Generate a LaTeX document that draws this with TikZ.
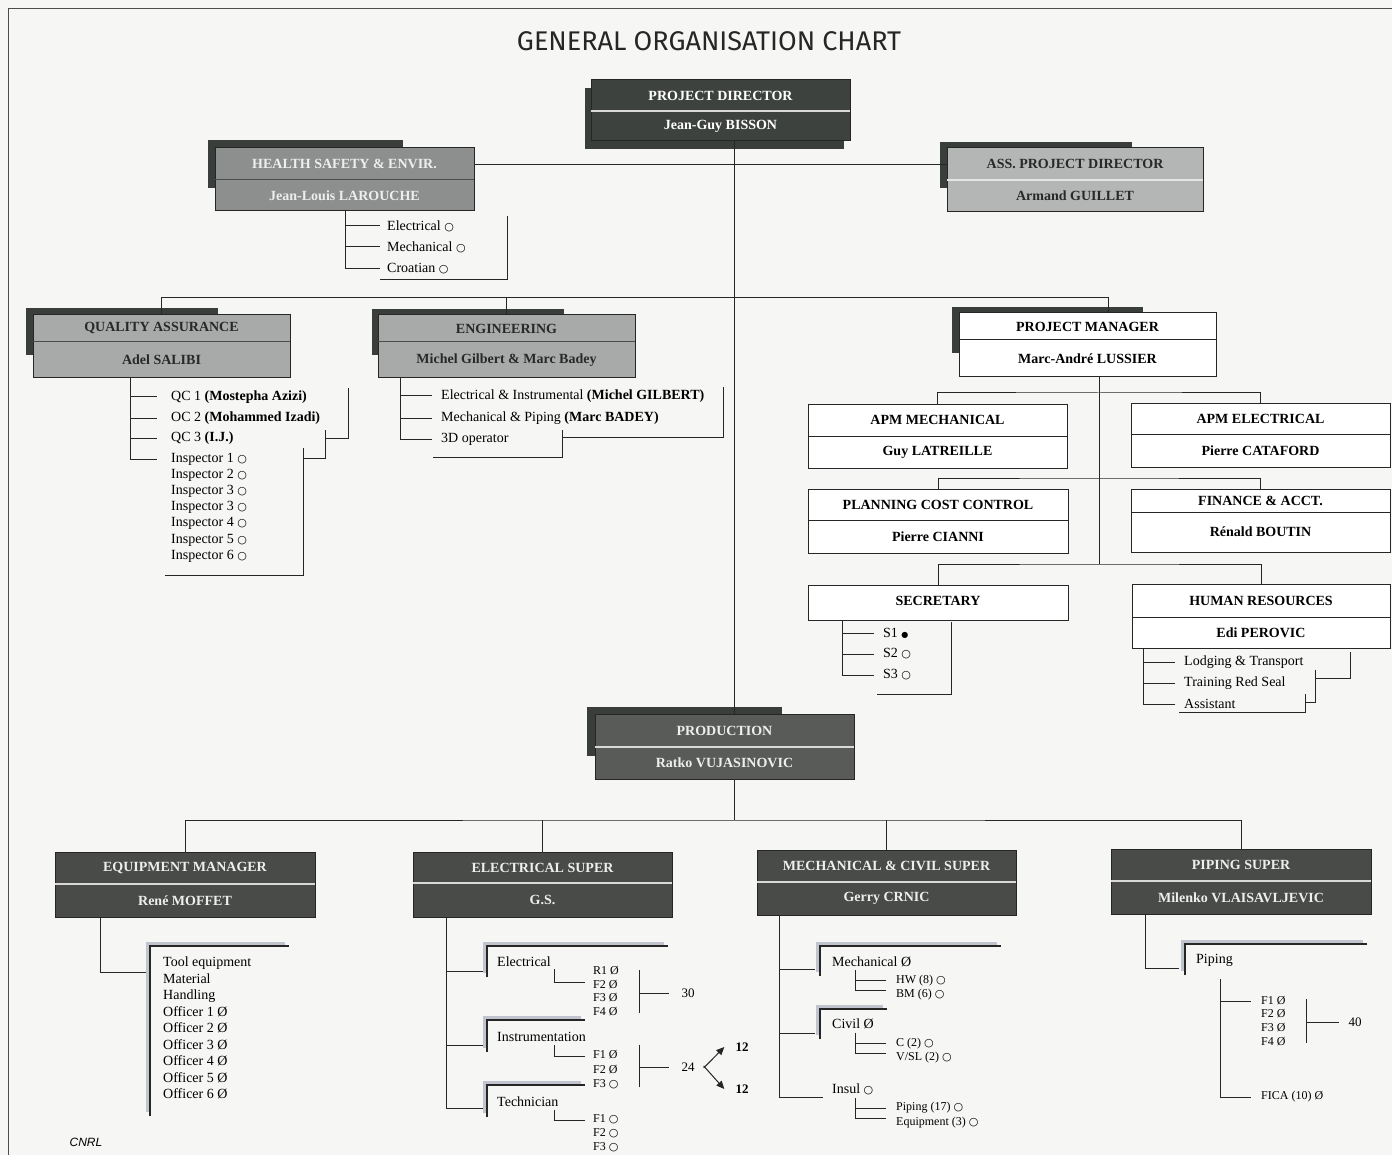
\documentclass[tikz,border=0pt]{standalone}
\usepackage{fontspec}
\setmainfont{Liberation Serif}
\newfontfamily\symf{DejaVu Sans}
\newfontfamily\titlef{Fira Sans}
\newfontfamily\cnrlf{Liberation Sans}
\usetikzlibrary{arrows.meta}

\definecolor{bg}{RGB}{246,246,244}
\definecolor{shdc}{RGB}{58,62,58}
\definecolor{dkfill}{RGB}{62,66,62}
\definecolor{prfill}{RGB}{88,91,88}
\definecolor{btfill}{RGB}{72,75,72}
\definecolor{hsfill}{RGB}{140,143,141}
\definecolor{ltfill}{RGB}{180,182,182}
\definecolor{mdfill}{RGB}{168,170,170}
\definecolor{lighttext}{RGB}{238,238,238}
\definecolor{darktext}{RGB}{40,40,40}
\definecolor{lshade}{RGB}{192,196,204}

\newcommand\oc{{\symf\fontsize{11}{11}\selectfont ○}}
\newcommand\bc{{\symf\fontsize{8}{8}\selectfont ●}}

% name, x1, y1, x2, y2, ydiv, style prefix, title, subtitle
\newcommand\orgbox[9]{%
  \node[#7box, anchor=north west, minimum width={(#4)-(#2)}, minimum height={(#5)-(#3)}] (#1) at (#2,#3) {};
  \draw[#7div] (#2,#6) -- (#4,#6);
  \node[#7txt] (#1-a) at ({(#2+#4)/2},{(#3+#6)/2}) {#8};
  \node[#7txt] (#1-b) at ({(#2+#4)/2},{(#6+#5)/2}) {#9};}

% x, ytop, ybottom, xright
\newcommand\thickL[4]{%
  \draw[lshd] (#1-3,#3-4) -- (#1-3,#2-3) -- (#4-4,#2-3);
  \draw[lthick] (#1,#3) -- (#1,#2) -- (#4,#2);}

\tikzset{
  ln/.style={draw=black!85, line width=1pt},
  obox/.style={draw=black!85, line width=1pt, inner sep=0pt, outer sep=0pt},
  bfont/.style={font=\bfseries\fontsize{14}{16}\selectfont, inner sep=0pt},
  dkbox/.style={obox, fill=dkfill}, dkdiv/.style={draw=white!85!black, line width=1.2pt}, dktxt/.style={bfont, text=white},
  prbox/.style={obox, fill=prfill}, prdiv/.style={draw=white!85!black, line width=1.2pt}, prtxt/.style={bfont, text=lighttext},
  btbox/.style={obox, fill=btfill}, btdiv/.style={draw=white!85!black, line width=1.2pt}, bttxt/.style={bfont, text=lighttext},
  hsbox/.style={obox, fill=hsfill}, hsdiv/.style={draw=black!70, line width=1pt}, hstxt/.style={bfont, text=lighttext},
  apbox/.style={obox, fill=ltfill}, apdiv/.style={draw=white!90!black, line width=1.2pt}, aptxt/.style={bfont, text=darktext},
  mdbox/.style={obox, fill=mdfill}, mddiv/.style={draw=black!70, line width=1pt}, mdtxt/.style={bfont, text=darktext},
  whbox/.style={obox, fill=white}, whdiv/.style={draw=black!85, line width=1pt}, whtxt/.style={bfont, text=black},
  itm/.style={anchor=west, inner sep=0pt, font=\fontsize{14}{16}\selectfont},
  smi/.style={anchor=west, inner sep=0pt, font=\fontsize{12}{13}\selectfont},
  num/.style={inner sep=0pt, font=\fontsize{13}{14}\selectfont},
  lthick/.style={draw=black!85, line width=2.6pt},
  lshd/.style={draw=lshade, line width=3pt},
  arr/.style={draw=black!85, line width=1pt, -{Triangle[length=8pt,width=7pt]}},
}

\begin{document}
\begin{tikzpicture}[x=1pt,y=-1pt]
\useasboundingbox (0,0) rectangle (1392,1155);
\fill[bg] (0,0) rectangle (1392,1155);
\draw[line width=1pt, black!70] (8,1155) -- (8,9) -- (1392,9);

\node[inner sep=0pt, font=\titlef\fontsize{27}{30}\selectfont, text=black!85] (title) at (709,41) {GENERAL ORGANISATION CHART};

% ---------- shadows ----------
\fill[shdc] (585,88) rectangle (844,149);
\fill[shdc] (208,140) rectangle (403,188);
\fill[shdc] (940,142) rectangle (1132,188);
\fill[shdc] (26,308) rectangle (218,355);
\fill[shdc] (372,309) rectangle (564,355);
\fill[shdc] (952,307) rectangle (1143,353);
\fill[shdc] (587,707) rectangle (782,756);

% ---------- boxes ----------
\orgbox{pd}{591}{80}{850}{141}{111}{dk}{PROJECT DIRECTOR}{Jean-Guy BISSON}
\orgbox{hse}{215}{148}{474}{211}{180}{hs}{HEALTH SAFETY \& ENVIR.}{Jean-Louis LAROUCHE}
\orgbox{apd}{947}{148}{1203}{212}{180}{ap}{ASS. PROJECT DIRECTOR}{Armand GUILLET}
\orgbox{qa}{33}{315}{290}{378}{342}{md}{QUALITY ASSURANCE}{Adel SALIBI}
\orgbox{eng}{378}{315}{635}{378}{342}{md}{ENGINEERING}{Michel Gilbert \& Marc Badey}
\orgbox{pm}{959}{313}{1216}{377}{340}{wh}{PROJECT MANAGER}{Marc-André LUSSIER}
\orgbox{apmm}{808}{404}{1067}{468}{436}{wh}{APM MECHANICAL}{Guy LATREILLE}
\orgbox{apme}{1131}{403}{1390}{467}{434}{wh}{APM ELECTRICAL}{Pierre CATAFORD}
\orgbox{pcc}{808}{489}{1068}{553}{520}{wh}{PLANNING COST CONTROL}{Pierre CIANNI}
\orgbox{fin}{1131}{489}{1390}{552}{512}{wh}{FINANCE \& ACCT.}{Rénald BOUTIN}
\node[whbox, anchor=north west, minimum width=260, minimum height=35] (sec) at (808,585) {};
\node[whtxt] (sec-a) at (938,601) {SECRETARY};
\orgbox{hr}{1132}{584}{1390}{648}{617}{wh}{HUMAN RESOURCES}{Edi PEROVIC}
\orgbox{prod}{595}{714}{854}{779}{747}{pr}{PRODUCTION}{Ratko VUJASINOVIC}
\orgbox{eqm}{55}{852}{315}{917}{884}{bt}{EQUIPMENT MANAGER}{René MOFFET}
\orgbox{els}{413}{852}{672}{917}{883}{bt}{ELECTRICAL SUPER}{G.S.}
\orgbox{mcs}{757}{850}{1016}{915}{882}{bt}{MECHANICAL \& CIVIL SUPER}{Gerry CRNIC}
\orgbox{pip}{1111}{849}{1371}{914}{881}{bt}{PIPING SUPER}{Milenko VLAISAVLJEVIC}

% ---------- main connectors ----------
\coordinate (trunk) at (734,0);
\coordinate (hsel) at (0,165);
\coordinate (lv2) at (0,298);
\coordinate (pmd) at (1108,0);
\draw[ln] (pd.south -| trunk) -- (prod.north -| trunk);
\draw[ln] (hse.east |- hsel) -- (apd.west |- hsel);
\draw[ln] (qa.north) -- (qa.north |- lv2) -- (pmd |- lv2) -- (pmd |- pm.north);
\draw[ln] (eng.north) -- (eng.north |- lv2);

% PM subtree
\coordinate (pmt) at (1099,0);
\coordinate (br1) at (1099,393);
\coordinate (br2) at (1099,478);
\coordinate (br3) at (1099,564);
\draw[ln] (pm.south -| pmt) -- (br3);
\draw[ln] (apmm.north) |- (br1) -| (apme.north);
\draw[ln] (pcc.north) |- (br2) -| (fin.north);
\draw[ln] (sec.north) |- (br3) -| (hr.north);

% production subtree
\coordinate (pbr) at (734,820);
\draw[ln] (prod.south -| trunk) -- (pbr);
\draw[ln] (eqm.north) |- (pbr) -| (pip.north);
\draw[ln] (els.north) -- (els.north |- pbr);
\draw[ln] (mcs.north) -- (mcs.north |- pbr);

% ---------- HSE list ----------
\coordinate (hsv) at (345,0);
\node[itm] (h1) at (387,226) {Electrical \oc};
\node[itm] (h2) at (387,247) {Mechanical \oc};
\node[itm] (h3) at (387,269) {Croatian \oc};
\draw[ln] (hse.south -| hsv) -- (hsv |- h3.west);
\foreach \n in {h1,h2,h3} \draw[ln] (hsv |- \n.west) -- ([xshift=-7pt]\n.west);
\draw[ln] (507,216) -- (507,280) -- (380,280);

% ---------- QA list ----------
\coordinate (qav) at (130,0);
\node[itm] (q1) at (171,397) {QC 1 \textbf{(Mostepha Azizi)}};
\node[itm] (q2) at (171,418) {OC 2 \textbf{(Mohammed Izadi)}};
\node[itm] (q3) at (171,438) {QC 3 \textbf{(I.J.)}};
\node[itm] (q4) at (171,459) {Inspector 1 \oc};
\node[itm] (q5) at (171,475) {Inspector 2 \oc};
\node[itm] (q6) at (171,491) {Inspector 3 \oc};
\node[itm] (q7) at (171,507) {Inspector 3 \oc};
\node[itm] (q8) at (171,523) {Inspector 4 \oc};
\node[itm] (q9) at (171,540) {Inspector 5 \oc};
\node[itm] (q10) at (171,556) {Inspector 6 \oc};
\draw[ln] (qa.south -| qav) -- (qav |- q4.west);
\foreach \n in {q1,q2,q3,q4} \draw[ln] (qav |- \n.west) -- ([xshift=-14pt]\n.west);
\draw[ln] (348,388) -- (348,438) -- (325,438);
\draw[ln] (325,430) -- (325,458) -- (303,458);
\draw[ln] (303,448) -- (303,575) -- (165,575);

% ---------- ENG list ----------
\coordinate (egv) at (400,0);
\node[itm] (e1) at (441,396) {Electrical \& Instrumental \textbf{(Michel GILBERT)}};
\node[itm] (e2) at (441,418) {Mechanical \& Piping \textbf{(Marc BADEY)}};
\node[itm] (e3) at (441,439) {3D operator};
\draw[ln] (eng.south -| egv) -- (egv |- e3.west);
\foreach \n in {e1,e2,e3} \draw[ln] (egv |- \n.west) -- ([xshift=-9pt]\n.west);
\draw[ln] (723,387) -- (723,437) -- (562,437);
\draw[ln] (562,430) -- (562,457) -- (433,457);

% ---------- Secretary list ----------
\coordinate (scv) at (842,0);
\node[itm] (s1) at (883,633) {S1 \bc};
\node[itm] (s2) at (883,654) {S2 \oc};
\node[itm] (s3) at (883,675) {S3 \oc};
\draw[ln] (sec.south -| scv) -- (scv |- s3.west);
\foreach \n in {s1,s2,s3} \draw[ln] (scv |- \n.west) -- ([xshift=-9pt]\n.west);
\draw[ln] (951,622) -- (951,694) -- (877,694);

% ---------- HR list ----------
\coordinate (hrv) at (1143,0);
\node[itm] (r1) at (1184,662) {Lodging \& Transport};
\node[itm] (r2) at (1184,683) {Training Red Seal};
\node[itm] (r3) at (1184,704) {Assistant};
\draw[ln] (hr.south -| hrv) -- (hrv |- r3.west);
\foreach \n in {r1,r2,r3} \draw[ln] (hrv |- \n.west) -- ([xshift=-9pt]\n.west);
\draw[ln] (1350,652) -- (1350,678) -- (1315,678);
\draw[ln] (1315,670) -- (1315,702) -- (1305,702);
\draw[ln] (1305,694) -- (1305,712) -- (1179,712);

% ---------- Equipment manager list ----------
\coordinate (eqv) at (100,0);
\thickL{150}{946}{1116}{289}
\node[itm] (m1) at (163,963) {Tool equipment};
\node[itm] (m2) at (163,979) {Material};
\node[itm] (m3) at (163,996) {Handling};
\node[itm] (m4) at (163,1012) {Officer 1 Ø};
\node[itm] (m5) at (163,1028) {Officer 2 Ø};
\node[itm] (m6) at (163,1045) {Officer 3 Ø};
\node[itm] (m7) at (163,1061) {Officer 4 Ø};
\node[itm] (m8) at (163,1078) {Officer 5 Ø};
\node[itm] (m9) at (163,1094) {Officer 6 Ø};
\coordinate (eqe) at (146,972);
\draw[ln] (eqm.south -| eqv) |- (eqe);

% ---------- Electrical super list ----------
\coordinate (elv) at (446,0);
\thickL{487}{946}{977}{668}
\thickL{487}{1020}{1052}{585}
\thickL{487}{1085}{1117}{585}
\node[itm] (ea) at (497,962) {Electrical};
\node[itm] (eb) at (497,1037) {Instrumentation};
\node[itm] (ec) at (497,1102) {Technician};
\coordinate (et1) at (483,971);
\coordinate (et2) at (483,1045);
\coordinate (et3) at (483,1108);
\draw[ln] (els.south -| elv) -- (elv |- et3);
\foreach \n in {et1,et2,et3} \draw[ln] (elv |- \n) -- (\n);
\node[smi] (ea1) at (593,971) {R1 Ø};
\node[smi] (ea2) at (593,985) {F2 Ø};
\node[smi] (ea3) at (593,998) {F3 Ø};
\node[smi] (ea4) at (593,1012) {F4 Ø};
\draw[ln] (554,969) -- (554,982) -- (585,982);
\draw[ln] (639,970) -- (639,1013);
\node[num] (n30) at (688,993) {30};
\draw[ln] (639,993) -- ([xshift=-12pt]n30.west);
\node[smi] (eb1) at (593,1055) {F1 Ø};
\node[smi] (eb2) at (593,1070) {F2 Ø};
\node[smi] (eb3) at (593,1084) {F3 \oc};
\draw[ln] (554,1045) -- (554,1056) -- (585,1056);
\draw[ln] (639,1045) -- (639,1087);
\node[num] (n24) at (688,1067) {24};
\draw[ln] (639,1067) -- ([xshift=-12pt]n24.west);
\node[num, font=\bfseries\fontsize{13}{14}\selectfont] (n12a) at (742,1047) {12};
\node[num, font=\bfseries\fontsize{13}{14}\selectfont] (n12b) at (742,1089) {12};
\draw[arr] ([xshift=9pt,yshift=-1pt]n24.east) -- ([xshift=-11pt]n12a.west);
\draw[arr] ([xshift=9pt,yshift=1pt]n24.east) -- ([xshift=-11pt]n12b.west);
\node[smi] (ec1) at (593,1119) {F1 \oc};
\node[smi] (ec2) at (593,1133) {F2 \oc};
\node[smi] (ec3) at (593,1147) {F3 \oc};
\draw[ln] (554,1110) -- (554,1120) -- (585,1120);

% ---------- Mechanical & civil list ----------
\coordinate (mcv) at (779,0);
\thickL{820}{946}{976}{1001}
\thickL{820}{1009}{1039}{887}
\node[itm] (ma) at (832,962) {Mechanical Ø};
\node[itm] (mb) at (832,1024) {Civil Ø};
\node[itm] (mc) at (832,1089) {Insul \oc};
\coordinate (mt1) at (815,969);
\coordinate (mt2) at (815,1033);
\coordinate (mt3) at (823,1097);
\draw[ln] (mcs.south -| mcv) -- (mcv |- mt3);
\foreach \n in {mt1,mt2,mt3} \draw[ln] (mcv |- \n) -- (\n);
\node[smi] (ma1) at (896,981) {HW (8) \oc};
\node[smi] (ma2) at (896,995) {BM (6) \oc};
\draw[ln] (886,980) -- (855,980) -- (855,990) -- (886,990);
\draw[ln] (855,970) -- (855,980);
\node[smi] (mb1) at (896,1044) {C (2) \oc};
\node[smi] (mb2) at (896,1058) {V/SL (2) \oc};
\draw[ln] (855,1033) -- (855,1053) -- (886,1053);
\draw[ln] (855,1043) -- (886,1043);
\node[smi] (mc1) at (896,1108) {Piping (17) \oc};
\node[smi] (mc2) at (896,1123) {Equipment (3) \oc};
\draw[ln] (855,1098) -- (855,1118) -- (886,1118);
\draw[ln] (855,1108) -- (886,1108);

% ---------- Piping list ----------
\coordinate (pv) at (1145,0);
\thickL{1185}{944}{975}{1367}
\node[itm] (pa) at (1196,960) {Piping};
\coordinate (pe) at (1179,968);
\draw[ln] (pip.south -| pv) |- (pe);
\node[smi] (p1) at (1261,1001) {F1 Ø};
\node[smi] (p2) at (1261,1014) {F2 Ø};
\node[smi] (p3) at (1261,1028) {F3 Ø};
\node[smi] (p4) at (1261,1042) {F4 Ø};
\node[smi] (p5) at (1261,1097) {FICA (10) Ø};
\coordinate (ppv) at (1220,979);
\draw[ln] (ppv) -- (ppv |- p5.west);
\draw[ln] (ppv |- p1.west) -- ([xshift=-10pt]p1.west);
\draw[ln] (ppv |- p5.west) -- ([xshift=-10pt]p5.west);
\draw[ln] (1306,999) -- (1306,1043);
\node[num] (n40) at (1355,1022) {40};
\draw[ln] (1306,1022) -- ([xshift=-9pt]n40.west);

\node[inner sep=0pt, font=\cnrlf\itshape\fontsize{12}{13}\selectfont] (cnrl) at (86,1142) {CNRL};
\end{tikzpicture}
\end{document}
